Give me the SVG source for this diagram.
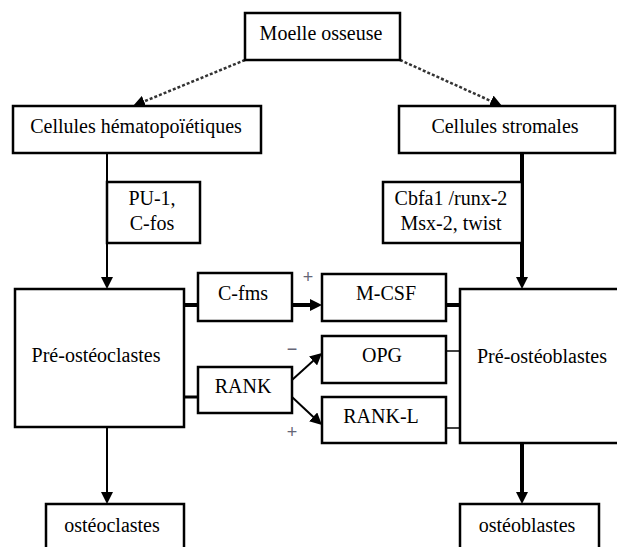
<svg xmlns="http://www.w3.org/2000/svg" width="617" height="547" viewBox="0 0 617 547">
<style>
  .box { fill: #fff; stroke: #000; stroke-width: 2.5; }
  .lbl { font-family: "Liberation Serif", "DejaVu Serif", "Times New Roman", serif; font-size: 20px; fill: #000; text-anchor: middle; }
  .sign { font-family: "Liberation Sans", Arial, sans-serif; font-size: 18px; fill: #667; text-anchor: middle; }
  .c { stroke: #000; fill: none; }
  .dash { stroke: #333; stroke-width: 2.5; stroke-dasharray: 3 2; fill: none; }
</style>
<defs>
  <marker id="ah" viewBox="0 0 12 12" markerWidth="12" markerHeight="12" refX="1" refY="6" orient="auto" markerUnits="userSpaceOnUse">
    <path d="M0,0 L12,6 L0,12 z" fill="#000"/>
  </marker>
</defs>
<rect width="617" height="547" fill="#fff"/>

<g id="connectors">
  <line class="dash" x1="245" y1="60" x2="143.2" y2="101.8" marker-end="url(#ah)"/>
  <line class="dash" x1="400" y1="60" x2="492" y2="101.5" marker-end="url(#ah)"/>
  <line class="c" x1="107" y1="153" x2="107" y2="278" stroke-width="2" marker-end="url(#ah)"/>
  <line class="c" x1="522" y1="153" x2="522" y2="278" stroke-width="4" marker-end="url(#ah)"/>
  <line class="c" x1="107" y1="427" x2="107" y2="493" stroke-width="2" marker-end="url(#ah)"/>
  <line class="c" x1="522" y1="443" x2="522" y2="493" stroke-width="4" marker-end="url(#ah)"/>
  <line class="c" x1="184" y1="305" x2="198" y2="305" stroke-width="4"/>
  <line class="c" x1="292" y1="305" x2="311" y2="305" stroke-width="4" marker-end="url(#ah)"/>
  <line class="c" x1="446" y1="305" x2="460" y2="305" stroke-width="4"/>
  <line class="c" x1="184" y1="397" x2="198" y2="397" stroke-width="3"/>
  <line class="c" x1="292" y1="380" x2="313.8" y2="360.3" stroke-width="2" marker-end="url(#ah)"/>
  <line class="c" x1="292" y1="397" x2="313.9" y2="417.5" stroke-width="2" marker-end="url(#ah)"/>
  <line class="c" x1="446" y1="351" x2="460" y2="351" stroke-width="1.5"/>
  <line class="c" x1="446" y1="428" x2="460" y2="428" stroke-width="1.5"/>
  <text class="sign" x="308" y="283">+</text>
  <text class="sign" x="292" y="355">−</text>
  <text class="sign" x="292" y="438">+</text>
</g>

<g id="moelle">
  <rect class="box" x="245" y="13" width="155" height="47"/>
  <text class="lbl" x="321" y="40">Moelle osseuse</text>
</g>
<g id="hemato">
  <rect class="box" x="13" y="106" width="248" height="47"/>
  <text class="lbl" x="136" y="133">Cellules hématopoïétiques</text>
</g>
<g id="stromales">
  <rect class="box" x="399" y="106" width="216" height="47"/>
  <text class="lbl" x="505" y="133">Cellules stromales</text>
</g>
<g id="pu1">
  <rect class="box" x="107" y="182" width="93" height="61"/>
  <text class="lbl" x="152" y="205">PU-1,</text>
  <text class="lbl" x="152" y="230">C-fos</text>
</g>
<g id="cbfa1">
  <rect class="box" x="383" y="182" width="139" height="61"/>
  <text class="lbl" x="451" y="205">Cbfa1 /runx-2</text>
  <text class="lbl" x="451" y="230">Msx-2, twist</text>
</g>
<g id="preosteoclastes">
  <rect class="box" x="15" y="289" width="169" height="138"/>
  <text class="lbl" x="96" y="362">Pré-ostéoclastes</text>
</g>
<g id="preosteoblastes">
  <rect class="box" x="460" y="289" width="170" height="154"/>
  <text class="lbl" x="542" y="363">Pré-ostéoblastes</text>
</g>
<g id="cfms">
  <rect class="box" x="198" y="273" width="94" height="48"/>
  <text class="lbl" x="243" y="300">C-fms</text>
</g>
<g id="rank">
  <rect class="box" x="198" y="367" width="94" height="46"/>
  <text class="lbl" x="243" y="393">RANK</text>
</g>
<g id="mcsf">
  <rect class="box" x="322" y="274" width="124" height="47"/>
  <text class="lbl" x="386" y="300">M-CSF</text>
</g>
<g id="opg">
  <rect class="box" x="322" y="336" width="124" height="47"/>
  <text class="lbl" x="382" y="362">OPG</text>
</g>
<g id="rankl">
  <rect class="box" x="322" y="397" width="124" height="46"/>
  <text class="lbl" x="381" y="423">RANK-L</text>
</g>
<g id="osteoclastes">
  <rect class="box" x="46" y="504" width="138" height="60"/>
  <text class="lbl" x="112" y="532">ostéoclastes</text>
</g>
<g id="osteoblastes">
  <rect class="box" x="460" y="504" width="139" height="60"/>
  <text class="lbl" x="527" y="532">ostéoblastes</text>
</g>
</svg>
